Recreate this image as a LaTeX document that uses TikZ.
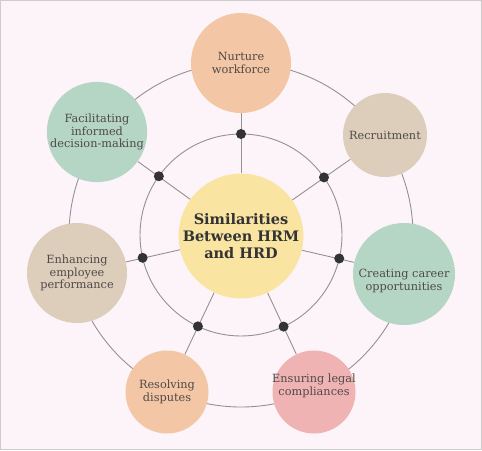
\documentclass[tikz,border=0pt]{standalone}
\usepackage{fontspec}
\setmainfont{DejaVu Serif}
\usetikzlibrary{calc}
\definecolor{bg}{HTML}{FCF4F8}
\definecolor{frame}{HTML}{CFCBCD}
\definecolor{peach}{HTML}{F3C6A5}
\definecolor{beige}{HTML}{DDCDBB}
\definecolor{sage}{HTML}{B5D5C5}
\definecolor{rose}{HTML}{EFB3B3}
\definecolor{butter}{HTML}{F9E4A2}
\definecolor{linegray}{HTML}{959193}
\definecolor{dotgray}{HTML}{333333}
\definecolor{txt}{HTML}{4F4A48}
\pgfdeclarelayer{bgl}
\pgfdeclarelayer{lines}
\pgfsetlayers{bgl,lines,main}
\tikzset{
  bubble/.style={circle, inner sep=0pt, align=center, text=txt, font=\fontsize{11.3}{12.5}\selectfont},
  label/.style={align=center, text=txt, font=\fontsize{11.3}{12.5}\selectfont},
  hub/.style={circle, inner sep=0pt, align=center, fill=butter, minimum size=124pt, text=dotgray, font=\fontsize{14.5}{17}\selectfont\bfseries},
  ringline/.style={draw=linegray, line width=0.9pt},
  dotmark/.style={circle, fill=dotgray, inner sep=0pt, minimum size=10pt},
}
\begin{document}
\begin{tikzpicture}[x=1pt,y=-1pt]
\begin{pgfonlayer}{bgl}
\path[fill=bg, draw=frame, line width=1pt] (0.5,0.5) rectangle (481.5,449.5);
\end{pgfonlayer}
\useasboundingbox (0,0) rectangle (482,450);
\coordinate (C) at (241,235);
\node[hub] (ctr) at (241,236) {Similarities\\Between HRM\\and HRD};
\node[bubble, fill=peach, minimum size=100pt] (nur) at (241,63) {Nurture\\workforce};
\node[bubble, fill=beige, minimum size=84pt] (rec) at (385,135) {Recruitment};
\node[bubble, fill=sage, minimum size=102pt] (cre) at (404,274) {};
\node[label] (cret) at (404,281) {Creating career\\opportunities};
\node[bubble, fill=rose, minimum size=83pt] (ens) at (314,392) {};
\node[label] (enst) at (314,386) {Ensuring legal\\compliances};
\node[bubble, fill=peach, minimum size=83pt] (res) at (167,392) {Resolving\\disputes};
\node[bubble, fill=beige, minimum size=100pt] (enh) at (77,273) {Enhancing\\employee\\performance};
\node[bubble, fill=sage, minimum size=83pt] (fac) at (97,132) {Facilitating\\informed\\decision-making};
\begin{pgfonlayer}{lines}
\draw[ringline] (C) circle[radius=101pt];
\draw[ringline] (C) circle[radius=172pt];
\foreach \n in {nur,rec,cre,ens,res,enh,fac}{
  \draw[ringline] (ctr) -- (\n);
}
\end{pgfonlayer}
\foreach \n in {nur,rec,cre,ens,res,enh,fac}{
  \node[dotmark] (dot-\n) at ($(C)!101pt!(\n.center)$) {};
}
\end{tikzpicture}
\end{document}
